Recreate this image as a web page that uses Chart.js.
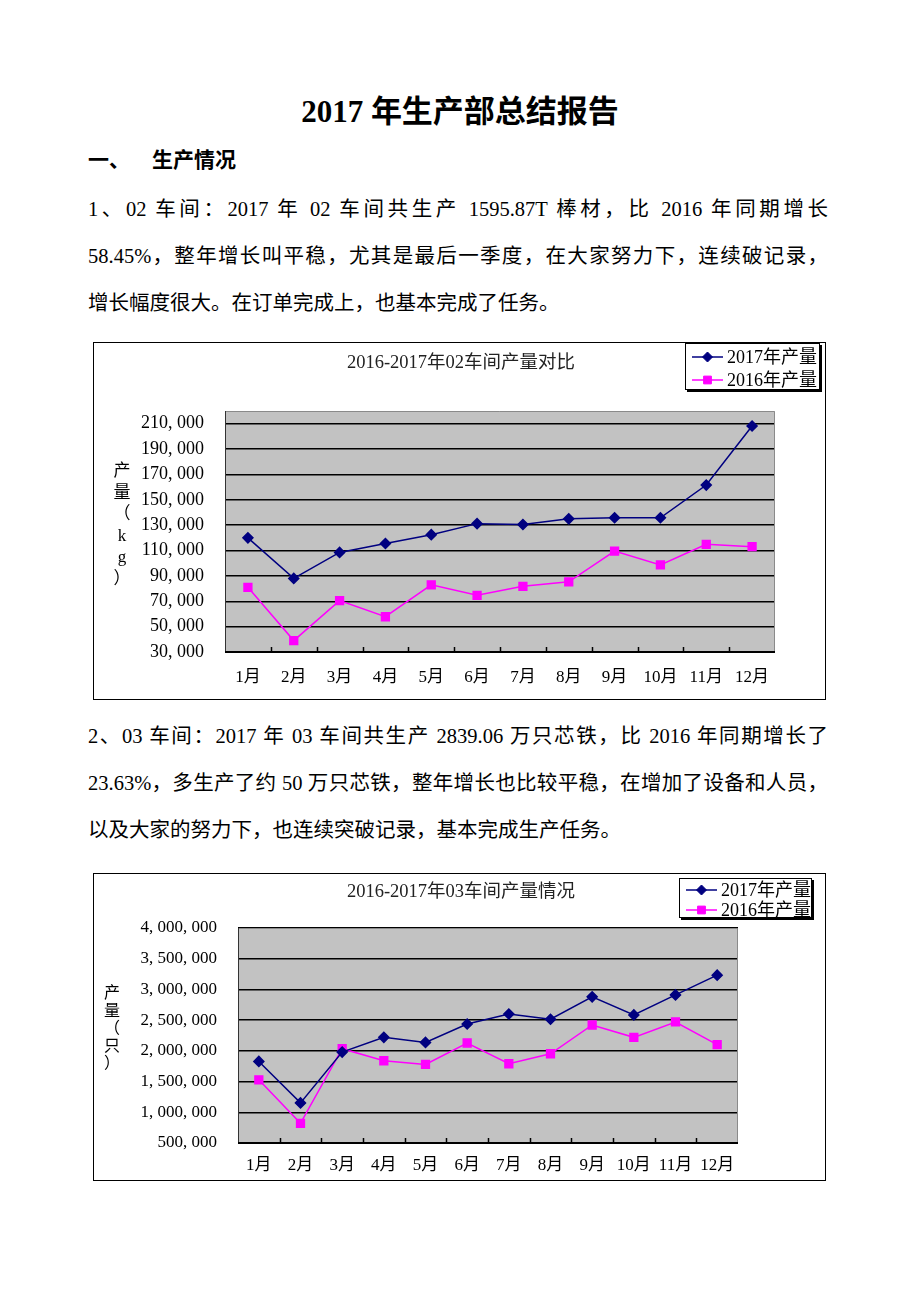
<!DOCTYPE html>
<html>
<head>
<meta charset="utf-8">
<script src="https://cdn.jsdelivr.net/npm/chart.js@4.4.0/dist/chart.umd.min.js"></script>
<style>
  body { margin: 0; background: #fff; width: 920px; height: 1302px; position: relative;
         font-family: "Liberation Serif", "Noto Sans CJK SC", serif; color: #000; }
  .t { position: absolute; white-space: nowrap; }
  #title { left: 0; width: 920px; top: 90px; text-align: center; font-size: 31px; font-weight: bold; line-height: 44px; }
  #sec { left: 88px; top: 140px; font-size: 21px; font-weight: bold; line-height: 40px; }
  #sec span { display: inline-block; width: 64px; }
  .ln { position: absolute; left: 88px; width: 740px; font-size: 20.5px; line-height: 47px; height: 47px;
        text-align: justify; text-align-last: justify; white-space: nowrap; }
  .ln.last { text-align-last: left; }
  .box { position: absolute; border: 1px solid #000; box-sizing: border-box; background: #fff; }
</style>
</head>
<body>
<div class="t" id="title">2017 年生产部总结报告</div>
<div class="t" id="sec"><span>一、</span>生产情况</div>

<div class="ln" style="top:186px">1、02 车间：2017 年 02 车间共生产 1595.87T 棒材，比 2016 年同期增长</div>
<div class="ln" style="top:233px">58.45%，整年增长叫平稳，尤其是最后一季度，在大家努力下，连续破记录，</div>
<div class="ln last" style="top:280px">增长幅度很大。在订单完成上，也基本完成了任务。</div>

<div class="box" style="left:93px;top:342px;width:733px;height:358px">
  <canvas id="c02" width="731" height="356"></canvas>
</div>

<div class="ln" style="top:713px">2、03 车间：2017 年 03 车间共生产 2839.06 万只芯铁，比 2016 年同期增长了</div>
<div class="ln" style="top:760px">23.63%，多生产了约 50 万只芯铁，整年增长也比较平稳，在增加了设备和人员，</div>
<div class="ln last" style="top:807px">以及大家的努力下，也连续突破记录，基本完成生产任务。</div>

<div class="box" style="left:93px;top:873px;width:733px;height:308px">
  <canvas id="c03" width="731" height="306"></canvas>
</div>

<script>
// 月份
const months = ['1月', '2月', '3月', '4月', '5月', '6月', '7月', '8月', '9月', '10月', '11月', '12月'];

// 02车间 (kg)
const ws02_2017 = [120000, 88000, 108500, 115500, 122500, 131200, 130500, 135000, 135800, 135800, 161600, 208200];
const ws02_2016 = [81000, 39000, 70500, 57800, 83000, 74700, 81800, 85300, 109600, 98700, 114900, 113000];
const ws02Ticks = [30000, 50000, 70000, 90000, 110000, 130000, 150000, 170000, 190000, 210000];

// 03车间 (只)
const ws03_2017 = [1828000, 1153000, 1980000, 2220000, 2138000, 2438000, 2601000, 2514000, 2879000, 2585000, 2911000, 3232000];
const ws03_2016 = [1529000, 821000, 2035000, 1839000, 1779000, 2128000, 1790000, 1953000, 2421000, 2220000, 2470000, 2100000];
const ws03Ticks = [500000, 1000000, 1500000, 2000000, 2500000, 3000000, 3500000, 4000000];

const FONT = '"Liberation Serif", "Noto Sans CJK SC", serif';
const fmt = v => v.toLocaleString('en-US').replace(/,/g, ', ');

// 背景、边框、标题、纵轴标题、图例
const deco = {
  id: 'deco',
  beforeDraw(chart, args, o) {
    const a = chart.chartArea, ctx = chart.ctx;
    ctx.save();
    ctx.fillStyle = '#c2c2c2';
    ctx.fillRect(a.left, a.top, a.right - a.left, a.bottom - a.top);
    ctx.restore();
  },
  beforeDatasetsDraw(chart, args, o) {
    const a = chart.chartArea, ctx = chart.ctx;
    ctx.save();
    ctx.lineWidth = 1;
    ctx.strokeStyle = '#8a8a8a';
    ctx.beginPath();
    ctx.moveTo(a.left, a.top + 0.5); ctx.lineTo(a.right - 0.5, a.top + 0.5); ctx.lineTo(a.right - 0.5, a.bottom);
    ctx.stroke();
    ctx.strokeStyle = '#333';
    ctx.beginPath(); ctx.moveTo(a.left + 0.5, a.top); ctx.lineTo(a.left + 0.5, a.bottom); ctx.stroke();
    ctx.strokeStyle = '#000';
    ctx.lineWidth = 2;
    ctx.beginPath(); ctx.moveTo(a.left, a.bottom); ctx.lineTo(a.right, a.bottom); ctx.stroke();
    // x 轴刻度 (类别分界处)
    const x = chart.scales.x;
    const half = (x.getPixelForValue(1) - x.getPixelForValue(0)) / 2;
    ctx.lineWidth = 1.5;
    for (let i = 1; i < months.length; i++) {
      const px = Math.round(x.getPixelForValue(i) - half) + 0.5;
      ctx.beginPath(); ctx.moveTo(px, a.bottom); ctx.lineTo(px, a.bottom - 5); ctx.stroke();
    }
    ctx.restore();
  },
  afterDraw(chart, args, o) {
    const ctx = chart.ctx;
    ctx.save();
    ctx.fillStyle = '#222';
    ctx.textAlign = 'center';
    ctx.textBaseline = 'middle';
    ctx.font = o.titleSize + 'px ' + FONT;
    ctx.fillText(o.title, o.titleX, o.titleY);

    ctx.fillStyle = '#000';
    ctx.font = o.yTitleSize + 'px ' + FONT;
    [...o.yTitle].forEach((ch, i) => ctx.fillText(ch, o.yTitleX, o.yTitleY + i * o.yTitleStep));

    const lg = o.legend;
    ctx.fillStyle = '#000';
    ctx.fillRect(lg.x + 2, lg.y + 2, lg.w, lg.h);
    ctx.fillStyle = '#fff';
    ctx.fillRect(lg.x, lg.y, lg.w, lg.h);
    ctx.strokeStyle = '#000';
    ctx.lineWidth = 1;
    ctx.strokeRect(lg.x + 0.5, lg.y + 0.5, lg.w - 1, lg.h - 1);
    ctx.textAlign = 'left';
    ctx.font = lg.size + 'px ' + FONT;
    chart.data.datasets.forEach((ds, i) => {
      const y = lg.rows[i];
      ctx.strokeStyle = ds.borderColor;
      ctx.lineWidth = 1.5;
      ctx.beginPath(); ctx.moveTo(lg.x1, y); ctx.lineTo(lg.x2, y); ctx.stroke();
      ctx.fillStyle = ds.pointBackgroundColor;
      ctx.lineWidth = 1;
      Chart.helpers.drawPoint(ctx, { pointStyle: ds.pointStyle, radius: ds.pointRadius, rotation: 0, borderWidth: 1 }, (lg.x1 + lg.x2) / 2, y);
      ctx.fillStyle = '#000';
      ctx.fillText(ds.label, lg.tx, y + 1);
    });
    ctx.restore();
  }
};

function makeChart(id, d2017, d2016, ticks, o) {
  new Chart(document.getElementById(id), {
    type: 'line',
    data: {
      labels: months,
      datasets: [
        { label: '2017年产量', data: d2017, borderColor: '#000080', backgroundColor: '#000080',
          pointBackgroundColor: '#000080', pointBorderColor: '#000080', pointStyle: 'rectRot',
          pointRadius: 5, borderWidth: 1.5, tension: 0 },
        { label: '2016年产量', data: d2016, borderColor: '#ff00ff', backgroundColor: '#ff00ff',
          pointBackgroundColor: '#ff00ff', pointBorderColor: '#ff00ff', pointStyle: 'rect',
          pointRadius: 5.5, borderWidth: 1.5, tension: 0 }
      ]
    },
    options: {
      responsive: false,
      animation: false,
      layout: { padding: o.padding },
      plugins: { legend: { display: false }, tooltip: { enabled: false }, deco: o.deco },
      scales: {
        x: {
          offset: true,
          grid: { display: false },
          border: { display: false },
          ticks: { color: '#000', padding: o.xPad, font: { family: FONT, size: 17 }, maxRotation: 0, autoSkip: false },
          afterFit: s => { s.height = o.xHeight; }
        },
        y: {
          min: o.min, max: o.max,
          afterBuildTicks: s => { s.ticks = ticks.map(v => ({ value: v })); },
          grid: { color: '#000', lineWidth: 1.5, drawTicks: false },
          border: { display: false },
          ticks: { color: '#000', padding: 21, font: { family: FONT, size: o.ySize }, callback: v => fmt(v) },
          afterFit: s => { s.width = o.yWidth; }
        }
      }
    },
    plugins: [deco]
  });
}

makeChart('c02', ws02_2017, ws02_2016, ws02Ticks, {
  min: 30000, max: 220000, padding: { top: 68, right: 50, bottom: 0, left: 0 },
  yWidth: 131, xHeight: 47, xPad: 7, ySize: 18,
  deco: {
    title: '2016-2017年02车间产量对比', titleSize: 18.5, titleX: 367, titleY: 20,
    yTitle: '产量（kg）', yTitleSize: 17, yTitleX: 28, yTitleY: 129, yTitleStep: 21.5,
    legend: { x: 591, y: 0, w: 135, h: 47, rows: [14, 37], x1: 598, x2: 629, tx: 633, size: 18 }
  }
});

makeChart('c03', ws03_2017, ws03_2016, ws03Ticks, {
  min: 500000, max: 4000000, padding: { top: 54, right: 87, bottom: 0, left: 0 },
  yWidth: 144, xHeight: 37, xPad: 4, ySize: 17,
  deco: {
    title: '2016-2017年03车间产量情况', titleSize: 18.5, titleX: 367, titleY: 18,
    yTitle: '产量（只）', yTitleSize: 16, yTitleX: 18, yTitleY: 120, yTitleStep: 17.5,
    legend: { x: 585, y: 4, w: 133, h: 40, rows: [16, 36], x1: 592, x2: 623, tx: 627, size: 18 }
  }
});
</script>
</body>
</html>
